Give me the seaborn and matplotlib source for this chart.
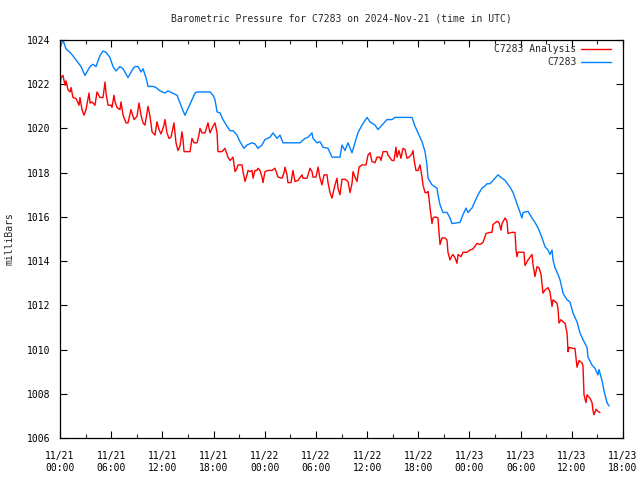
import numpy as np
import pandas as pd
import matplotlib
matplotlib.use("Agg")
import matplotlib.pyplot as plt
import seaborn as sns

# hours since 2024-11-21 00:00 UTC, pressure (mb)
obs_hours = [0.00, 0.35, 0.70, 1.29, 1.88, 2.46, 2.93, 3.52, 3.87, 4.22, 4.69, 5.04, 5.39, 5.86, 6.21, 6.56,
             7.03, 7.39, 7.97, 8.56, 8.79, 9.14, 9.50, 9.73, 10.08, 10.32, 10.90, 11.25, 11.72, 12.31, 12.66,
             13.72, 14.07, 14.42, 14.65, 15.00, 15.47, 15.83, 16.06, 17.58, 17.94, 18.17, 18.41, 18.76, 19.11,
             19.58, 19.93, 20.28, 20.75, 21.10, 21.57, 21.92, 22.51, 22.86, 23.21, 23.68, 24.03, 24.62, 24.97,
             25.44, 25.79, 26.14, 28.14, 28.72, 29.07, 29.54, 29.66, 30.13, 30.48, 30.83, 31.42, 31.89, 32.82,
             33.06, 33.41, 33.76, 34.23, 34.58, 34.93, 35.40, 35.99, 36.34, 36.93, 37.28, 37.75, 38.33, 38.92,
             39.27, 41.26, 41.62, 41.97, 42.44, 42.79, 43.02, 43.14, 43.61, 44.20, 44.31, 44.55, 44.90, 45.37,
             45.72, 45.95, 46.89, 47.24, 47.60, 47.83, 48.30, 48.65, 49.00, 49.47, 49.82, 50.06, 50.41, 50.76,
             51.35, 51.82, 52.17, 52.75, 53.11, 53.57, 53.93, 54.16, 54.28, 54.86, 55.33, 55.68, 56.04, 56.51,
             56.86, 57.21, 57.44, 57.68, 57.80, 58.03, 58.38, 58.62, 58.97, 59.44, 59.79, 60.14, 60.61, 60.96,
             61.31, 61.78, 61.90, 62.37, 62.72, 63.07, 63.18, 63.54, 63.77, 64.12, 64.36]
obs_pressure = [1023.64, 1024.0, 1023.6, 1023.4, 1023.1, 1022.8, 1022.4, 1022.8, 1022.9, 1022.8, 1023.3, 1023.5,
                1023.45, 1023.2, 1022.8, 1022.6, 1022.8, 1022.7, 1022.3, 1022.7, 1022.8, 1022.8, 1022.55, 1022.7,
                1022.3, 1021.9, 1021.9, 1021.85, 1021.7, 1021.6, 1021.7, 1021.5, 1021.15, 1020.8, 1020.6, 1020.9,
                1021.3, 1021.6, 1021.65, 1021.65, 1021.5, 1021.3, 1020.75, 1020.7, 1020.4, 1020.1, 1019.9, 1019.9,
                1019.7, 1019.4, 1019.1, 1019.25, 1019.35, 1019.3, 1019.1, 1019.25, 1019.5, 1019.6, 1019.8, 1019.55,
                1019.7, 1019.35, 1019.35, 1019.55, 1019.6, 1019.8, 1019.55, 1019.35, 1019.4, 1019.15, 1019.1,
                1018.7, 1018.7, 1019.25, 1019.0, 1019.35, 1018.9, 1019.35, 1019.8, 1020.15, 1020.5, 1020.3,
                1020.15, 1019.95, 1020.15, 1020.4, 1020.4, 1020.5, 1020.5, 1020.1, 1019.8, 1019.4, 1018.95,
                1018.35, 1017.75, 1017.45, 1017.3, 1017.0, 1016.55, 1016.2, 1016.2, 1015.95, 1015.7, 1015.75,
                1016.1, 1016.4, 1016.2, 1016.4, 1016.7, 1017.0, 1017.3, 1017.4, 1017.5, 1017.5, 1017.65, 1017.9,
                1017.75, 1017.65, 1017.35, 1017.1, 1016.6, 1016.2, 1015.95, 1016.2, 1016.25, 1015.95, 1015.75,
                1015.5, 1015.05, 1014.65, 1014.5, 1014.3, 1014.5, 1014.05, 1013.7, 1013.4, 1013.15, 1012.55,
                1012.25, 1012.15, 1011.65, 1011.25, 1010.75, 1010.45, 1010.1, 1009.65, 1009.3, 1009.15, 1008.85,
                1009.1, 1008.6, 1008.15, 1007.6, 1007.45]

ana_hours = [0.00, 0.12, 0.35, 0.59, 0.70, 0.94, 1.17, 1.29, 1.52, 1.88, 2.23, 2.34, 2.58, 2.81, 3.05, 3.40,
             3.52, 3.75, 4.10, 4.34, 4.69, 5.04, 5.28, 5.39, 5.63, 5.98, 6.10, 6.33, 6.45, 6.68, 7.03, 7.15,
             7.39, 7.74, 7.97, 8.32, 8.68, 9.03, 9.26, 9.50, 9.73, 9.96, 10.32, 10.55, 10.79, 11.14, 11.37,
             11.61, 11.84, 12.19, 12.31, 12.54, 12.78, 13.01, 13.36, 13.60, 13.83, 14.07, 14.30, 14.42, 14.54,
             15.24, 15.47, 15.71, 16.06, 16.29, 16.41, 16.65, 17.00, 17.23, 17.35, 17.58, 17.94, 18.17, 18.41,
             18.52, 18.99, 19.34, 19.69, 19.93, 20.16, 20.28, 20.52, 20.75, 20.87, 21.34, 21.45, 21.69, 21.92,
             22.04, 22.27, 22.51, 22.63, 22.86, 23.09, 23.21, 23.45, 23.68, 23.80, 24.03, 24.38, 24.85, 25.20,
             25.56, 26.03, 26.26, 26.38, 26.61, 26.72, 27.08, 27.31, 27.55, 27.90, 28.37, 28.49, 28.96, 29.31,
             29.54, 29.66, 30.01, 30.25, 30.48, 30.71, 30.95, 31.30, 31.42, 31.65, 31.89, 32.00, 32.24, 32.47,
             32.59, 32.82, 33.06, 33.41, 33.76, 34.00, 34.23, 34.35, 34.58, 34.82, 35.05, 35.40, 35.87, 36.11,
             36.34, 36.58, 36.93, 37.16, 37.51, 37.63, 37.87, 38.33, 38.45, 38.92, 39.15, 39.39, 39.51, 39.74,
             39.97, 40.21, 40.44, 40.68, 40.91, 41.26, 41.38, 41.50, 41.73, 41.97, 42.20, 42.44, 42.55, 42.79,
             43.02, 43.14, 43.26, 43.38, 43.61, 43.73, 43.96, 44.31, 44.43, 44.55, 44.78, 45.13, 45.37, 45.48,
             45.72, 45.95, 46.07, 46.31, 46.54, 46.66, 47.01, 47.24, 47.71, 48.06, 48.42, 48.89, 49.24, 49.59,
             49.82, 49.94, 50.41, 50.64, 50.76, 51.23, 51.46, 51.70, 51.82, 52.17, 52.40, 52.52, 52.99, 53.34,
             53.46, 53.57, 53.69, 54.16, 54.39, 54.51, 54.86, 55.33, 55.45, 55.68, 55.92, 56.15, 56.39, 56.62,
             56.86, 57.21, 57.44, 57.68, 57.80, 58.26, 58.38, 58.50, 58.73, 58.97, 59.20, 59.44, 59.56, 59.67,
             60.14, 60.37, 60.61, 60.84, 61.19, 61.31, 61.43, 61.66, 61.78, 62.13, 62.37, 62.48, 62.60, 62.84,
             63.07, 63.30]
ana_pressure = [1021.95, 1022.3, 1022.4, 1021.95, 1022.15, 1021.75, 1021.65, 1021.85, 1021.4, 1021.35, 1021.05,
                1021.4, 1020.85, 1020.6, 1020.85, 1021.6, 1021.15, 1021.2, 1021.05, 1021.65, 1021.4, 1021.4,
                1022.1, 1021.6, 1021.05, 1021.05, 1020.95, 1021.5, 1021.2, 1020.95, 1020.85, 1021.2, 1020.6,
                1020.25, 1020.25, 1020.85, 1020.4, 1020.55, 1021.15, 1020.6, 1020.25, 1020.15, 1021.0, 1020.55,
                1019.85, 1019.7, 1020.3, 1019.95, 1019.75, 1020.15, 1020.4, 1019.8, 1019.55, 1019.6, 1020.25,
                1019.35, 1019.0, 1019.2, 1019.85, 1019.5, 1018.95, 1018.95, 1019.55, 1019.35, 1019.35, 1019.7,
                1020.0, 1019.8, 1019.8, 1020.1, 1020.25, 1019.8, 1020.1, 1020.25, 1019.8, 1018.95, 1018.95,
                1019.1, 1018.7, 1018.55, 1018.65, 1018.7, 1018.05, 1018.2, 1018.35, 1018.35, 1018.05, 1017.6,
                1017.9, 1018.1, 1018.05, 1018.1, 1017.75, 1018.1, 1018.1, 1018.2, 1018.1, 1017.8, 1017.55,
                1018.05, 1018.1, 1018.1, 1018.2, 1017.8, 1017.75, 1018.0, 1018.25, 1017.9, 1017.55, 1017.55,
                1018.1, 1017.6, 1017.65, 1017.9, 1017.75, 1017.75, 1018.2, 1018.05, 1017.8, 1017.8, 1018.25,
                1017.75, 1017.45, 1017.9, 1017.9, 1017.55, 1017.1, 1016.85, 1017.05, 1017.45, 1017.75, 1017.3,
                1017.0, 1017.7, 1017.7, 1017.6, 1017.1, 1017.5, 1018.05, 1017.8, 1017.6, 1018.25, 1018.35,
                1018.35, 1018.8, 1018.9, 1018.5, 1018.45, 1018.7, 1018.7, 1018.55, 1018.95, 1018.95, 1018.8,
                1018.55, 1018.55, 1019.15, 1018.7, 1019.0, 1018.65, 1019.1, 1019.05, 1018.65, 1018.7, 1018.85,
                1019.0, 1018.6, 1018.1, 1018.1, 1018.35, 1017.8, 1017.45, 1017.1, 1017.1, 1017.15, 1016.85,
                1016.4, 1015.7, 1015.95, 1016.0, 1015.95, 1015.3, 1014.75, 1015.05, 1015.05, 1014.95, 1014.4,
                1014.05, 1014.25, 1014.3, 1014.15, 1013.9, 1014.3, 1014.2, 1014.4, 1014.4, 1014.5, 1014.55,
                1014.8, 1014.75, 1014.85, 1015.1, 1015.25, 1015.3, 1015.3, 1015.65, 1015.8, 1015.75, 1015.4,
                1015.7, 1015.95, 1015.8, 1015.25, 1015.3, 1015.3, 1014.5, 1014.2, 1014.4, 1014.4, 1014.4,
                1013.8, 1014.05, 1014.3, 1013.85, 1013.3, 1013.75, 1013.7, 1013.4, 1012.55, 1012.7, 1012.8,
                1012.6, 1011.95, 1012.25, 1012.1, 1011.85, 1011.2, 1011.35, 1011.25, 1011.2, 1010.75, 1009.9,
                1010.1, 1010.05, 1010.05, 1009.2, 1009.5, 1009.4, 1009.25, 1007.95, 1007.6, 1007.95, 1007.8,
                1007.6, 1007.25, 1007.05, 1007.3, 1007.2, 1007.15]

x_tick_hours = [0, 6, 12, 18, 24, 30, 36, 42, 48, 54, 60, 66]
x_tick_labels = ["11/21\n00:00", "11/21\n06:00", "11/21\n12:00", "11/21\n18:00",
                 "11/22\n00:00", "11/22\n06:00", "11/22\n12:00", "11/22\n18:00",
                 "11/23\n00:00", "11/23\n06:00", "11/23\n12:00", "11/23\n18:00"]
y_ticks = [1006, 1008, 1010, 1012, 1014, 1016, 1018, 1020, 1022, 1024]

title = "Barometric Pressure for C7283 on 2024-Nov-21 (time in UTC)"

sns.set_style("white")
plt.rcParams["font.family"] = ["DejaVu Sans Mono", "DejaVu Sans"]
plt.rcParams["font.size"] = 7

df = pd.concat([
    pd.DataFrame({"hour": ana_hours, "pressure": ana_pressure, "series": "C7283 Analysis"}),
    pd.DataFrame({"hour": obs_hours, "pressure": obs_pressure, "series": "C7283"}),
], ignore_index=True)

fig = plt.figure(figsize=(6.4, 4.8), dpi=100)
ax = fig.add_axes([60 / 640, 1 - 438 / 480, (623 - 60) / 640, (438 - 40) / 480])

sns.lineplot(data=df, x="hour", y="pressure", hue="series", estimator=None, sort=False,
             palette={"C7283 Analysis": "#ff0000", "C7283": "#0080ff"}, linewidth=1.0, ax=ax)

ax.set_xlim(0, 66)
ax.set_ylim(1006, 1024)
ax.set_xticks(x_tick_hours)
ax.set_xticklabels(x_tick_labels, linespacing=1.35)
ax.set_xticks(np.arange(3, 66, 6), minor=True)
ax.set_yticks(y_ticks)
ax.set_yticklabels([str(v) for v in y_ticks])
ax.tick_params(axis="x", which="major", direction="in", length=5, width=0.8,
               top=True, bottom=True, labelsize=7, pad=9, colors="black")
ax.tick_params(axis="y", which="major", direction="in", length=5, width=0.8,
               left=True, right=True, labelsize=7, pad=7, colors="black")
ax.tick_params(axis="x", which="minor", direction="in", length=3, width=0.8, top=True, bottom=True)
for s in ax.spines.values():
    s.set_color("black")
    s.set_linewidth(0.9)

ax.set_xlabel("")
ax.set_ylabel("milliBars", fontsize=7, labelpad=9)
ax.set_title(title, fontsize=7, pad=13)

leg = ax.legend(loc="upper right", frameon=False, markerfirst=False, fontsize=7,
                handlelength=3.0, borderaxespad=0.0, labelspacing=0.35, handletextpad=0.5,
                borderpad=0.0, bbox_to_anchor=(0.978, 0.99))
for t in leg.get_texts():
    t.set_ha("right")

fig.savefig("out.png", dpi=100)
